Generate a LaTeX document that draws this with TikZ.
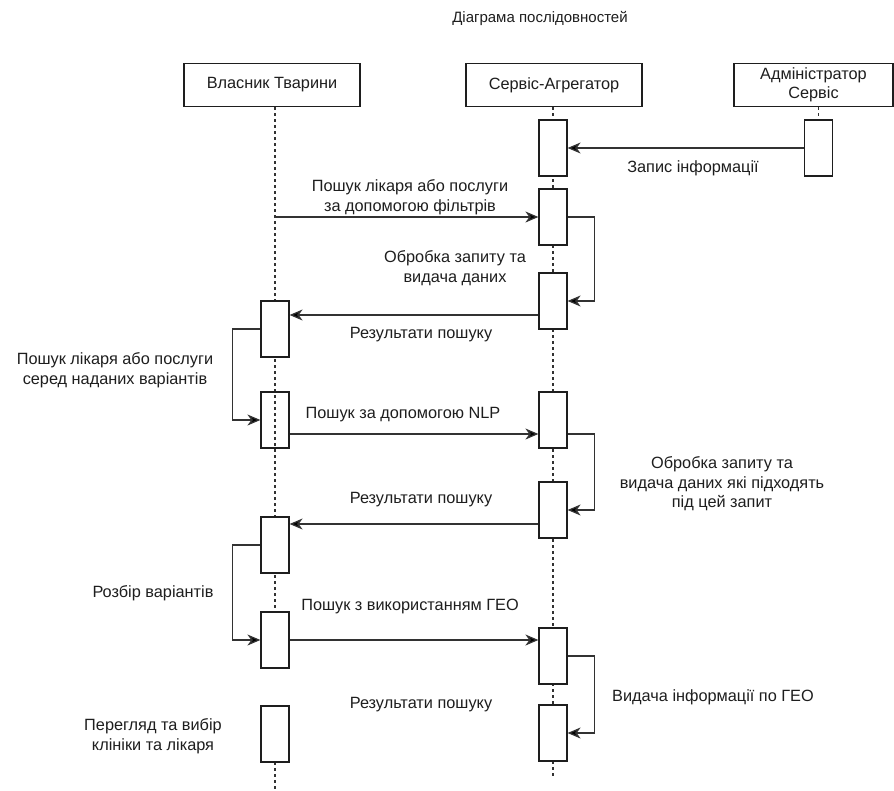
\documentclass[tikz,border=0pt]{standalone}
\usepackage{fontspec}
\setmainfont{Liberation Sans}
\usetikzlibrary{arrows.meta}
\definecolor{ink}{RGB}{30,30,30}
\definecolor{wire}{RGB}{50,50,50}
\begin{document}
\begin{tikzpicture}[x=1pt,y=-1pt,
  every node/.style={font=\fontsize{16.3}{19.5}\selectfont, text=ink},
  head/.style={draw=ink, line width=1.2pt, fill=white, minimum width=176pt, minimum height=43pt, inner sep=0pt, align=center},
  act/.style={draw=ink, line width=1.2pt, fill=white, minimum width=28pt, minimum height=56pt, inner sep=0pt},
  actclear/.style={draw=ink, line width=1.2pt, minimum width=28pt, minimum height=56pt, inner sep=0pt},
  life/.style={draw=wire, line width=1.1pt, dash pattern=on 3pt off 3pt},
  msg/.style={draw=wire, line width=1.3pt, -{Stealth[length=13pt,width=11pt,inset=4pt,fill=black]}},
  lbl/.style={align=center, inner sep=0pt}
]
\useasboundingbox (0,0) rectangle (894,790);
\fill[white] (0,0) rectangle (894,790);

% title
\node[lbl, font=\fontsize{15}{18}\selectfont] (title) at (540,18) {Діаграма послідовностей};

% participants
\node[head] (own) at (272,85) {Власник Тварини};
\node[head] (agg) at (554,85) {Сервіс-Агрегатор};
\node[head, minimum width=159pt] (adm) at (813.5,85) {Адміністратор\\Сервіс};

% lifelines
\coordinate (l1) at (275,106);
\coordinate (l2) at (553,106);
\coordinate (l3) at (818.5,106);
\draw[life] (own.south -| l1) -- (275,668);
\draw[life] (275,762) -- (275,790);
\draw[life] (agg.south -| l2) -- (553,778);
\draw[life] (adm.south -| l3) -- (818.5,120);

% activation bars: owner
\node[act] (b1) at (275,329) {};
\node[actclear] (b2) at (275,420) {};
\node[act] (b3) at (275,545) {};
\node[act] (b4) at (275,640) {};
\node[act] (b5) at (275,734) {};

% activation bars: aggregator
\node[act] (a1) at (553,148) {};
\node[act] (a2) at (553,217) {};
\node[act] (a3) at (553,301) {};
\node[act] (a4) at (553,420) {};
\node[act] (a5) at (553,510) {};
\node[act] (a6) at (553,656) {};
\node[act] (a7) at (553,733) {};

% activation bar: administrator
\node[act] (c1) at (818.5,148) {};

% messages
\draw[msg] (c1.west) -- (a1.east);
\node[lbl] at (693,168) {Запис інформації};

\draw[msg] (b1 |- a2.west) -- (a2.west);
\node[lbl] at (410,197) {Пошук лікаря або послуги\\за допомогою фільтрів};

\draw[msg] (a2.east) -- ++(27,0) |- (a3.east);
\node[lbl] at (455,268) {Обробка запиту та\\видача даних};

\coordinate (r1) at ([yshift=-14pt]a3.west);
\draw[msg] (r1) -- (r1 -| b1.east);
\node[lbl] at (421,335) {Результати пошуку};

\draw[msg] (b1.west) -- ++(-28,0) |- (b2.west);
\node[lbl] at (115,370) {Пошук лікаря або послуги\\серед наданих варіантів};

\coordinate (n1) at ([yshift=-14pt]b2.east);
\draw[msg] (n1) -- (n1 -| a4.west);
\node[lbl] at (403,415) {Пошук за допомогою NLP};

\draw[msg] (n1 -| a4.east) -- ++(27,0) |- (a5.east);
\node[lbl] at (722,484) {Обробка запиту та\\видача даних які підходять\\під цей запит};

\coordinate (r2) at ([yshift=-14pt]a5.west);
\draw[msg] (r2) -- (r2 -| b3.east);
\node[lbl] at (421,500) {Результати пошуку};

\draw[msg] (b3.west) -- ++(-28,0) |- (b4.west);
\node[lbl] at (153,593) {Розбір варіантів};

\draw[msg] (b4.east) -- (b4.east -| a6.west);
\node[lbl] at (410,606) {Пошук з використанням ГЕО};

\draw[msg] (a6.east) -- ++(27,0) |- (a7.east);
\node[lbl] at (713,697) {Видача інформації по ГЕО};

\node[lbl] at (421,705) {Результати пошуку};
\node[lbl] at (153,736) {Перегляд та вибір\\клініки та лікаря};
\end{tikzpicture}
\end{document}
